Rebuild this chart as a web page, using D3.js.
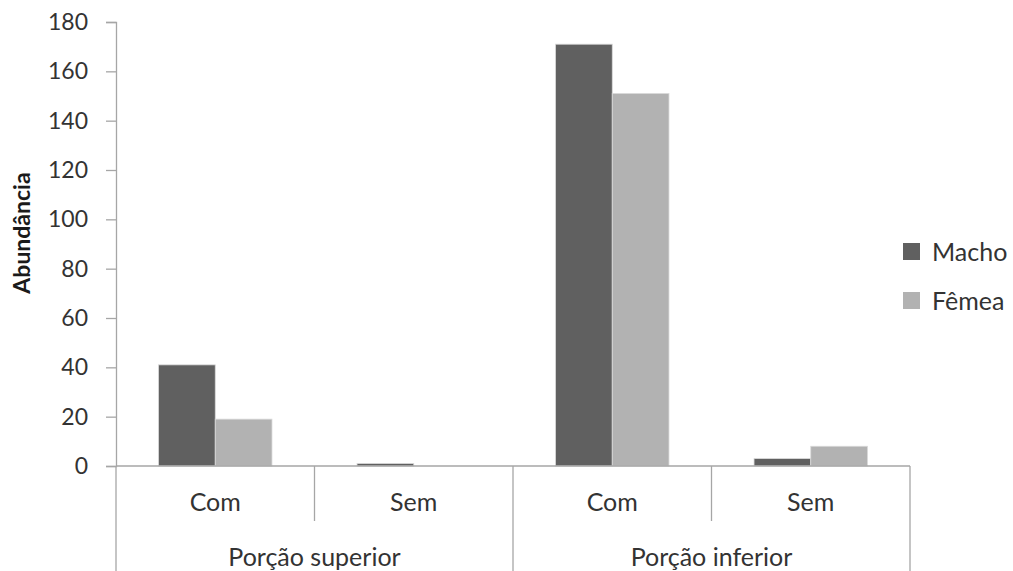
<!DOCTYPE html>
<html>
<head>
<meta charset="utf-8">
<script src="https://cdn.jsdelivr.net/npm/d3@7"></script>
<style>
  html, body { margin: 0; padding: 0; background: #fff; }
  svg { display: block; font-family: Lato, "Open Sans", sans-serif; }
</style>
</head>
<body>
<svg id="chart" width="1013" height="571"></svg>
<script>
// Abundance by position and condition, split by sex
const groups = ["Porção superior", "Porção inferior"];
const categories = ["Com", "Sem"];
const seriesNames = ["Macho", "Fêmea"];
const macho = [41, 1, 171, 3];
const femea = [19, 0, 151, 8];
const yTicks = [0, 20, 40, 60, 80, 100, 120, 140, 160, 180];
const yTitle = "Abundância";

const colors = { "Macho": "#606060", "Fêmea": "#b2b2b2" };
const axisColor = "#a6a6a6";
const textColor = "#333333";
const labelSize = "25px";

const svg = d3.select("#chart");
const plot = { left: 116, right: 910, top: 22, bottom: 466 };

// Each bar slot is one group + category pair
const slots = [];
groups.forEach(g => categories.forEach(c => slots.push({ group: g, cat: c, key: g + "|" + c })));
slots.forEach((s, i) => { s.values = [macho[i], femea[i]]; });

const x0 = d3.scaleBand().domain(slots.map(s => s.key)).range([plot.left, plot.right]).paddingInner(0).paddingOuter(0);
const x1 = d3.scaleBand().domain(seriesNames).range([0, x0.bandwidth()]).paddingInner(0).paddingOuter(0.75);
const y = d3.scaleLinear().domain([0, 180]).range([plot.bottom, plot.top]);

// Bars
const slotG = svg.append("g").selectAll("g").data(slots).join("g")
  .attr("transform", d => `translate(${x0(d.key)},0)`);
slotG.selectAll("rect")
  .data(d => seriesNames.map((n, i) => ({ name: n, value: d.values[i] })))
  .join("rect")
  .attr("x", d => x1(d.name))
  .attr("width", x1.bandwidth())
  .attr("y", d => y(d.value))
  .attr("height", d => y(0) - y(d.value))
  .attr("fill", d => colors[d.name])
  .attr("stroke", d => d.value > 0 ? "#d9d9d9" : "none")
  .attr("stroke-width", 0.8);

// Y axis
const yAxis = d3.axisLeft(y).tickValues(yTicks).tickSize(10).tickPadding(18).tickFormat(d3.format("d"));
const yg = svg.append("g").attr("transform", `translate(${plot.left},0)`).call(yAxis);
yg.select(".domain").attr("stroke", axisColor).attr("stroke-width", 1.3);
yg.selectAll(".tick line").attr("stroke", axisColor).attr("stroke-width", 1.3);
yg.selectAll(".tick text").attr("fill", textColor).style("font-size", "23px").style("font-family", "Lato, sans-serif");

// Baseline
svg.append("line")
  .attr("x1", plot.left).attr("x2", plot.right)
  .attr("y1", y(0)).attr("y2", y(0))
  .attr("stroke", axisColor).attr("stroke-width", 1.3);

// Category separators (short) and group separators (long)
const catBounds = slots.map(s => x0(s.key)).concat([plot.right]);
catBounds.forEach((bx, i) => {
  const isGroupEdge = i % categories.length === 0;
  svg.append("line")
    .attr("x1", bx).attr("x2", bx)
    .attr("y1", y(0)).attr("y2", isGroupEdge ? 571 : 521)
    .attr("stroke", axisColor).attr("stroke-width", 1.3);
});

// Category labels
svg.append("g").selectAll("text").data(slots).join("text")
  .attr("x", d => x0(d.key) + x0.bandwidth() / 2)
  .attr("y", 511)
  .attr("text-anchor", "middle")
  .attr("fill", textColor)
  .style("font-size", labelSize)
  .text(d => d.cat);

// Group labels
svg.append("g").selectAll("text").data(groups).join("text")
  .attr("x", g => {
    const keys = slots.filter(s => s.group === g).map(s => s.key);
    return (x0(keys[0]) + x0(keys[keys.length - 1]) + x0.bandwidth()) / 2;
  })
  .attr("y", 566)
  .attr("text-anchor", "middle")
  .attr("fill", textColor)
  .style("font-size", labelSize)
  .text(g => g);

// Y axis title
svg.append("text")
  .attr("transform", `translate(30,233) rotate(-90)`)
  .attr("text-anchor", "middle")
  .attr("fill", "#1a1a1a")
  .style("font-size", "23px")
  .style("font-weight", "bold")
  .text(yTitle);

// Legend
const legend = svg.append("g").selectAll("g").data(seriesNames).join("g")
  .attr("transform", (d, i) => `translate(903,${243 + i * 49})`);
legend.append("rect").attr("width", 17).attr("height", 17).attr("fill", d => colors[d]);
legend.append("text")
  .attr("x", 29).attr("y", 8.5).attr("dy", "0.36em")
  .attr("fill", textColor)
  .style("font-size", labelSize)
  .text(d => d);
</script>
</body>
</html>
